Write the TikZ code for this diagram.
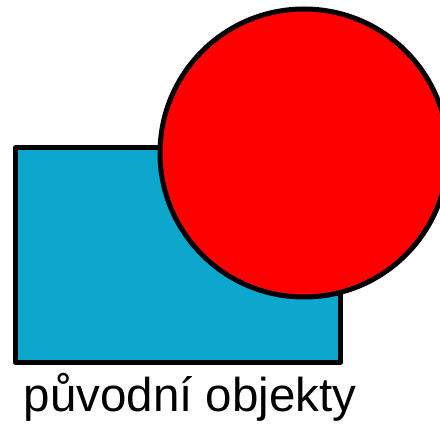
\documentclass[tikz,border=0pt]{standalone}
\usepackage{fontspec}
\setmainfont{Liberation Sans}
\usepackage{xcolor}
\usetikzlibrary{positioning}
\definecolor{objblue}{RGB}{13,167,206}
\definecolor{objred}{RGB}{255,0,0}
\tikzset{shapeline/.style={draw=black,line width=5pt,line join=round}}

\begin{document}
\begin{tikzpicture}[x=1pt,y=-1pt]
            \useasboundingbox (0,0) rectangle (440,427);

            \filldraw[shapeline,fill=objblue] (15.5,147.5) rectangle (340.5,362.5);
            \filldraw[shapeline,fill=objred] (304,153) circle (144);

 \node[anchor=base,inner sep=0pt,font=\fontsize{47.5}{52}\selectfont] (caption) at (190,412) {původní objekty};
        \end{tikzpicture}
\end{document}
